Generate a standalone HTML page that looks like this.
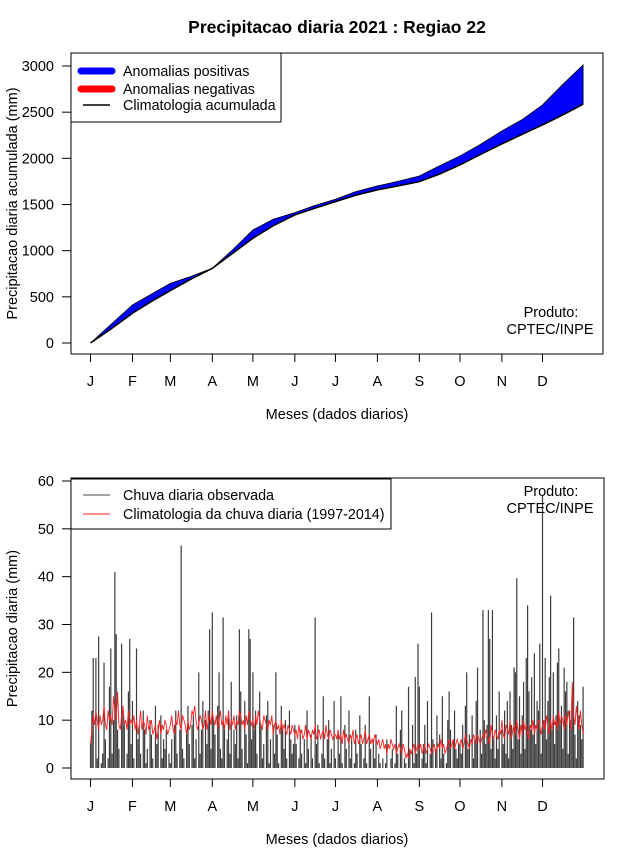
<!DOCTYPE html>
<html><head><meta charset="utf-8"><style>
body{margin:0;background:#fff}
svg text{font-family:"Liberation Sans",sans-serif;fill:#000}
</style></head><body>
<svg id="s" width="640" height="850" xmlns="http://www.w3.org/2000/svg">
<text x="337" y="33" font-size="17.5" font-weight="bold" text-anchor="middle">Precipitacao diaria 2021 : Regiao 22</text>
<g id="topPanel"></g>
<g id="botPanel"></g>
</svg>
<script>
const months=["J","F","M","A","M","J","J","A","S","O","N","D"];
const monthStartDays=[1,32,60,91,121,152,182,213,244,274,305,335];
const cumDays=[1,16,32,46,60,75,91,106,121,136,152,167,182,197,213,228,244,259,274,289,305,320,335,350,365];
const cumClim=[0,150,322,450,567,690,809,970,1134,1270,1387,1460,1531,1600,1658,1700,1748,1830,1928,2040,2156,2260,2362,2470,2586];
const cumObs=[0,200,412,530,646,720,809,1010,1224,1340,1412,1490,1557,1640,1701,1750,1809,1920,2026,2150,2297,2420,2578,2800,3012];
const topTicks=[0,500,1000,1500,2000,2500,3000];
const botTicks=[0,10,20,30,40,50,60];
const obsDaily=[].concat(
[5,12,23,0,23,2,27.5,0,1,3,22,6,0,2,17,25,3,10,41,28,8,4,0,26,12,9,0,3,16,27,5],
[14,2,0,25,6,9,3,0,12,8,1,4,0,10,7,2,0,13,5,9,0,11,2,6,4,8,0,3],
[1,6,0,9,12,3,0,8,46.5,4,2,0,7,13,5,0,9,11,2,6,0,20,3,8,14,0,10,5,12,29,4],
[32.5,10,7,0,13,20,4,2,31.5,9,0,6,12,3,18,0,8,5,11,2,29,16,4,0,14,7,1,29,27,6],
[20,8,12,3,0,16,9,2,5,0,11,14,1,6,0,9,3,20,7,1,0,13,8,4,10,2,0,12,6,3,5],
[9,5,0,2,8,3,0,6,1,12,4,0,7,2,0,31.5,5,9,1,0,3,15,2,0,6,10,1,4,0,14],
[2,0,7,3,15,1,0,9,4,0,12,2,6,0,1,8,3,0,11,5,0,2,9,1,0,15,4,0,6,2,7],
[0,3,1,0,2,0,1,6,0,0,2,4,0,1,13,3,0,8,12,0,2,1,0,17,4,0,9,1,19,3,26],
[17,0,2,5,9,1,14,0,3,32.5,6,0,4,11,0,7,2,15,3,0,1,10,16,8,0,6,12,4,2,5],
[5,3,9,0,13,20,4,7,0,11,2,6,14,21,0,8,3,33,10,5,9,33,27,4,33,6,2,11,4,16,0],
[8,5,12,3,14,2,16,9,4,21,20,39.7,6,15,3,11,18,4,23,34,16,8,19,7,24,5,14,12,26,3],
[57,10,23,6,14,19,36,8,20,5,11,22,25,9,13,4,21,16,18,3,12,10,15,31.5,7,2,14,11,9,6,17]);
const climDaily=[].concat(
[5,8,11,9,12,10,8,11,9,10,13,9,8,12,10,11,9,15,12,10,16,9,8,11,13,9,10,8,12,9,10],
[9,11,8,10,7,9,12,8,10,9,7,11,8,9,10,7,8,9,6,8,10,7,9,8,10,9,7,8],
[9,11,8,7,10,9,12,9,8,11,10,9,7,10,8,9,12,11,13,10,8,9,11,10,8,9,12,8,10,11,9],
[12,10,9,11,8,10,12,9,10,8,11,9,12,8,10,9,11,8,10,9,12,11,9,10,8,11,9,12,10,9],
[10,8,11,9,12,10,9,8,11,10,9,8,10,9,11,7,9,10,8,9,7,10,8,9,8,7,9,8,7,9,8],
[7,8,6,9,7,8,6,7,9,6,8,7,6,8,7,9,6,7,8,6,7,8,6,9,7,6,8,7,6,7],
[7,6,8,6,7,5,8,6,7,6,5,7,6,8,5,6,7,5,6,7,5,6,8,5,6,7,5,6,5,7,6],
[5,6,4,5,6,4,5,3,5,4,6,5,4,5,3,4,5,4,3,5,4,2,3,2,4,3,4,5,3,4,5],
[4,5,3,4,5,3,4,5,4,3,4,5,3,4,5,4,6,4,5,3,4,5,6,4,5,6,4,5,6,5],
[5,6,4,5,7,6,5,4,6,5,7,6,5,7,6,5,6,7,6,8,7,6,5,9,7,6,8,7,6,8,7],
[10,7,6,9,8,7,10,6,8,9,7,10,8,6,9,7,10,8,9,7,6,9,8,10,7,9,8,10,9,7],
[9,10,8,11,9,7,10,8,11,9,10,8,12,9,11,10,8,11,9,12,10,8,18,11,9,13,10,8,12,9,7]);

const NS="http://www.w3.org/2000/svg";
function mk(p,t,a,txt){const e=document.createElementNS(NS,t);for(const k in a)e.setAttribute(k,a[k]);if(txt!==undefined)e.textContent=txt;p.appendChild(e);return e;}
const xd=d=>90.5+(d-1)*(542.5-90.5)/334;

function panel(g,box,yScale,ticks,yTitle){
  const r=mk(g,'rect',{x:box.l,y:box.t,width:box.r-box.l,height:box.b-box.t,fill:'none',stroke:'#000','stroke-width':1});
  
  
  ticks.forEach(v=>{
    const y=yScale(v);
    const l=mk(g,'line',{x1:box.l-9,x2:box.l,y1:y,y2:y,stroke:'#000'});
    
    
    const t=mk(g,'text',{x:box.l-17,y:y+5,'font-size':14.5,'text-anchor':'end'},String(v));
    
    
  });
  months.forEach((m,i)=>{
    const x=xd(monthStartDays[i]);
    const l=mk(g,'line',{x1:x,x2:x,y1:box.b,y2:box.b+8,stroke:'#000'});
    
    
    const t=mk(g,'text',{x:x,y:box.b+32,'font-size':14.5,'text-anchor':'middle'},m);
    
    
  });
  const xt=mk(g,'text',{x:337,y:box.b+65,'font-size':14.5,'text-anchor':'middle'},'Meses (dados diarios)');
  
  
  const cy=(box.t+box.b)/2;
  const yt=mk(g,'text',{x:17,y:cy,'font-size':14.5,'text-anchor':'middle',transform:`rotate(-90 17 ${cy})`},yTitle);
  
  
}

// top panel
const T={l:71,r:603,t:53,b:354};
const yT=v=>343-v*(343-66)/3000;
const topG=document.getElementById('topPanel');
const poly=cumDays.map((d,i)=>xd(d)+','+yT(cumObs[i])).join(' ')+' '+cumDays.slice().reverse().map((d,j)=>{const i=cumDays.length-1-j;return xd(d)+','+yT(cumClim[i]);}).join(' ');
const area=mk(topG,'polygon',{points:poly,fill:'#0000ff',stroke:'#000','stroke-width':0.8});


const cl=mk(topG,'polyline',{points:cumDays.map((d,i)=>xd(d)+','+yT(cumClim[i])).join(' '),fill:'none',stroke:'#000','stroke-width':1.5});


panel(topG,T,yT,topTicks,'Precipitacao diaria acumulada (mm)');
const lg=mk(topG,'g',{});


mk(lg,'rect',{x:71,y:53,width:210,height:69,fill:'#fff',stroke:'#000'});
mk(lg,'line',{x1:81,x2:112,y1:71,y2:71,stroke:'#0000ff','stroke-width':7,'stroke-linecap':'round'});
mk(lg,'line',{x1:81,x2:112,y1:89,y2:89,stroke:'#ff0000','stroke-width':7,'stroke-linecap':'round'});
mk(lg,'line',{x1:83,x2:110,y1:105,y2:105,stroke:'#000','stroke-width':1.5});
mk(lg,'text',{x:123,y:76,'font-size':14.3},'Anomalias positivas');
mk(lg,'text',{x:123,y:94,'font-size':14.3},'Anomalias negativas');
mk(lg,'text',{x:123,y:110,'font-size':14.3},'Climatologia acumulada');
const p1=mk(topG,'text',{x:551,y:317,'font-size':14.5,'text-anchor':'middle'},'Produto:');


mk(topG,'text',{x:550,y:334,'font-size':14.5,'text-anchor':'middle'},'CPTEC/INPE');

// bottom panel
const B={l:71,r:604,t:478,b:779};
const yB=v=>768-v*(768-481)/60;
const botG=document.getElementById('botPanel');
const bars=mk(botG,'g',{});


obsDaily.forEach((v,i)=>{
  const x=xd(i+1);
  const b=mk(bars,'line',{x1:x,x2:x,y1:yB(0),y2:yB(v),stroke:'#3c3c3c','stroke-width':1.2});
  
  
});
const rl=mk(botG,'polyline',{points:climDaily.map((v,i)=>xd(i+1)+','+yB(v)).join(' '),fill:'none',stroke:'#ff2020','stroke-width':0.9});


panel(botG,B,yB,botTicks,'Precipitacao diaria (mm)');
const lg2=mk(botG,'g',{});


mk(lg2,'rect',{x:71,y:479,width:320,height:50,fill:'#fff',stroke:'#000'});
mk(lg2,'line',{x1:83,x2:110,y1:495,y2:495,stroke:'#4a4a4a'});
mk(lg2,'line',{x1:83,x2:110,y1:514,y2:514,stroke:'#ff2020'});
mk(lg2,'text',{x:123,y:500,'font-size':14.3},'Chuva diaria observada');
mk(lg2,'text',{x:123,y:519,'font-size':14.3},'Climatologia da chuva diaria (1997-2014)');
const p2=mk(botG,'text',{x:551,y:496,'font-size':14.5,'text-anchor':'middle'},'Produto:');


mk(botG,'text',{x:550,y:513,'font-size':14.5,'text-anchor':'middle'},'CPTEC/INPE');
</script>
</body></html>
